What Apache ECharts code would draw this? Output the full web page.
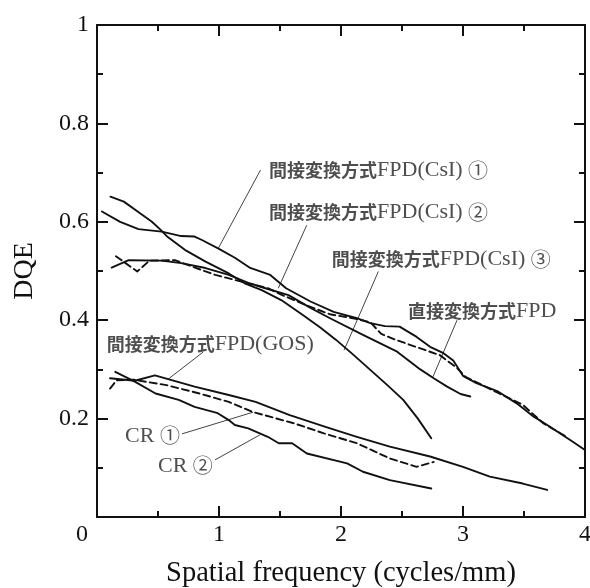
<!DOCTYPE html>
<html>
<head>
<meta charset="utf-8">
<script src="https://cdn.jsdelivr.net/npm/echarts@6/dist/echarts.min.js"></script>
<style>
  html, body { margin: 0; padding: 0; background: #fff; }
  #chart { width: 590px; height: 588px; }
</style>
</head>
<body>
<div id="chart"></div>
<script>
// DQE versus spatial frequency, pairs of [cycles/mm, DQE]
const csi1 = [[0.04,0.621],[0.19,0.600],[0.34,0.585],[0.53,0.580],[0.69,0.571],[0.80,0.570],[0.86,0.563],[1.00,0.545],[1.13,0.527],[1.25,0.507],[1.42,0.492],[1.55,0.465],[1.75,0.438],[1.94,0.417],[2.13,0.404],[2.24,0.394],[2.36,0.388],[2.48,0.387],[2.62,0.366],[2.73,0.346],[2.84,0.333],[2.92,0.318],[3.00,0.287],[3.11,0.272],[3.28,0.256],[3.44,0.231],[3.58,0.204],[3.71,0.184],[3.90,0.153],[4.00,0.136]];
const csi2 = [[0.155,0.530],[0.33,0.499],[0.43,0.521],[0.64,0.522],[0.78,0.509],[0.97,0.492],[1.19,0.478],[1.40,0.465],[1.51,0.452],[1.70,0.432],[1.91,0.412],[2.10,0.404],[2.24,0.396],[2.33,0.372],[2.45,0.360],[2.60,0.347],[2.81,0.329],[2.95,0.303],[3.02,0.285],[3.28,0.253],[3.49,0.228],[3.66,0.190],[3.85,0.163]];
const csi3 = [[0.11,0.651],[0.22,0.641],[0.35,0.618],[0.45,0.600],[0.52,0.584],[0.58,0.569],[0.72,0.543],[0.89,0.519],[1.08,0.495],[1.21,0.475],[1.35,0.461],[1.51,0.441],[1.69,0.410],[1.83,0.385],[1.96,0.360],[2.10,0.330],[2.24,0.299],[2.38,0.268],[2.51,0.238],[2.63,0.200],[2.74,0.160]];
const direct = [[0.12,0.507],[0.26,0.522],[0.53,0.521],[0.69,0.516],[0.89,0.506],[1.08,0.492],[1.24,0.476],[1.38,0.465],[1.57,0.451],[1.75,0.425],[1.91,0.404],[2.18,0.370],[2.46,0.336],[2.65,0.300],[2.76,0.282],[2.87,0.265],[2.98,0.250],[3.06,0.245]];
const gos = [[0.107,0.282],[0.31,0.277],[0.475,0.288],[0.80,0.265],[1.08,0.248],[1.30,0.234],[1.58,0.207],[1.86,0.184],[2.13,0.163],[2.40,0.143],[2.73,0.123],[3.00,0.102],[3.22,0.082],[3.49,0.068],[3.69,0.055]];
const cr1 = [[0.107,0.261],[0.16,0.278],[0.30,0.279],[0.57,0.268],[0.84,0.251],[1.08,0.234],[1.27,0.214],[1.62,0.190],[1.86,0.170],[2.13,0.150],[2.40,0.119],[2.62,0.102],[2.76,0.112]];
const cr2 = [[0.15,0.295],[0.31,0.275],[0.48,0.251],[0.67,0.238],[0.80,0.224],[0.99,0.211],[1.08,0.197],[1.13,0.187],[1.24,0.180],[1.40,0.163],[1.49,0.150],[1.60,0.150],[1.72,0.129],[2.05,0.109],[2.18,0.092],[2.40,0.075],[2.74,0.058]];

// curve names and the point each leader line touches on its curve
const curveNames = ['間接変換方式FPD(CsI) ①','間接変換方式FPD(CsI) ②','間接変換方式FPD(CsI) ③','直接変換方式FPD','間接変換方式FPD(GOS)','CR ①','CR ②'];
const leaderTargets = [[0.994,0.546],[1.486,0.465],[2.025,0.339],[2.754,0.285],[0.582,0.280],[1.279,0.213],[1.336,0.167]];

// axis ticks
const xTicks = { min: 0, max: 4, step: 1 };
const yTicks = { min: 0, max: 1, step: 0.2 };

// where each caption sits (left edge, vertical middle) and where its leader starts
const captionAnchors = [[1.41,0.705],[1.41,0.620],[1.924,0.524],[2.549,0.419],[0.080,0.351],[0.23,0.165],[0.50,0.104]];
const leaderStarts = [[1.34,0.705],[1.719,0.593],[2.306,0.499],[2.951,0.400],[0.869,0.335],[0.697,0.169],[0.967,0.116]];

const serif = "'Liberation Serif','Times New Roman',serif";
const gothic = "'Noto Sans CJK JP',sans-serif";
const ink = '#111';
const textInk = '#222';

// split a caption into kana/kanji, circled digits and Latin runs
function toRich(s) {
  let out = '', cur = null, buf = '';
  for (const ch of s) {
    const t = /[\u2460-\u2473]/.test(ch) ? 'c' : (/[\u3000-\u9fff\uff00-\uffef]/.test(ch) ? 'j' : 'r');
    if (t !== cur) {
      if (buf) out += '{' + cur + '|' + buf + '}';
      cur = t; buf = '';
    }
    buf += ch;
  }
  if (buf) out += '{' + cur + '|' + buf + '}';
  return out;
}

function curve(data, dashed) {
  return {
    type: 'line', data: data, showSymbol: false, symbol: 'none', silent: true,
    lineStyle: { color: ink, width: 1.9, type: dashed ? [7, 4] : 'solid', join: 'round', cap: 'round' },
    z: 3
  };
}

const series = [
  curve(csi1, false), curve(csi2, true), curve(csi3, false), curve(direct, false),
  curve(gos, false), curve(cr1, true), curve(cr2, false)
];

leaderStarts.forEach((p, i) => {
  series.push({
    type: 'line', data: [p, leaderTargets[i]], showSymbol: false, symbol: 'none', silent: true,
    lineStyle: { color: '#444', width: 1 }, z: 2
  });
});

series.push({
  type: 'scatter', symbolSize: 0, silent: true,
  data: captionAnchors.map((p, i) => ({ value: p, name: curveNames[i] })),
  label: {
    show: true, position: 'right', distance: 0,
    formatter: p => toRich(p.name),
    color: textInk,
    rich: {
      j: { fontFamily: gothic, fontSize: 18, fontWeight: 'bold', color: textInk, lineHeight: 24, verticalAlign: 'middle' },
      r: { fontFamily: serif, fontSize: 22, color: textInk, lineHeight: 24, verticalAlign: 'middle' },
      c: { fontFamily: gothic, fontSize: 20, color: textInk, lineHeight: 24, verticalAlign: 'middle' }
    }
  },
  z: 4
});

function frameAxis(extra) {
  return Object.assign({
    type: 'value',
    axisLine: { show: true, onZero: false, lineStyle: { color: ink, width: 2 } },
    axisTick: { show: true, inside: true, length: 11, lineStyle: { color: ink, width: 2 } },
    minorTick: { show: true, splitNumber: 2, length: 6, lineStyle: { color: ink, width: 2 } },
    splitLine: { show: false },
    minorSplitLine: { show: false }
  }, extra);
}

const chart = echarts.init(document.getElementById('chart'), null, { renderer: 'canvas' });
chart.setOption({
  animation: false,
  backgroundColor: '#fff',
  grid: { left: 97, right: 5, top: 25, bottom: 71, containLabel: false, outerBoundsMode: 'none' },
  xAxis: [
    frameAxis({
      position: 'bottom', min: xTicks.min, max: xTicks.max, interval: xTicks.step,
      axisLabel: {
        margin: 6, color: ink, fontFamily: serif, fontSize: 24,
        formatter: v => v === 0 ? '{o|0}' : String(v),
        rich: { o: { fontFamily: serif, fontSize: 24, color: ink, padding: [0, 30, 0, 0] } }
      },
      name: 'Spatial frequency (cycles/mm)', nameLocation: 'middle', nameGap: 42,
      nameTextStyle: { fontFamily: serif, fontSize: 28.5, color: ink }
    }),
    frameAxis({
      position: 'top', min: xTicks.min, max: xTicks.max, interval: xTicks.step,
      axisLabel: { show: false }
    })
  ],
  yAxis: [
    frameAxis({
      position: 'left', min: yTicks.min, max: yTicks.max, interval: yTicks.step,
      axisLabel: {
        margin: 8, color: ink, fontFamily: serif, fontSize: 24,
        formatter: v => v === 0 ? '' : String(+v.toFixed(1))
      },
      name: 'DQE', nameLocation: 'middle', nameGap: 58, nameRotate: 90,
      nameTextStyle: { fontFamily: serif, fontSize: 28, color: ink }
    }),
    frameAxis({
      position: 'right', min: yTicks.min, max: yTicks.max, interval: yTicks.step,
      axisLabel: { show: false }
    })
  ],
  series: series
});
</script>
</body>
</html>
